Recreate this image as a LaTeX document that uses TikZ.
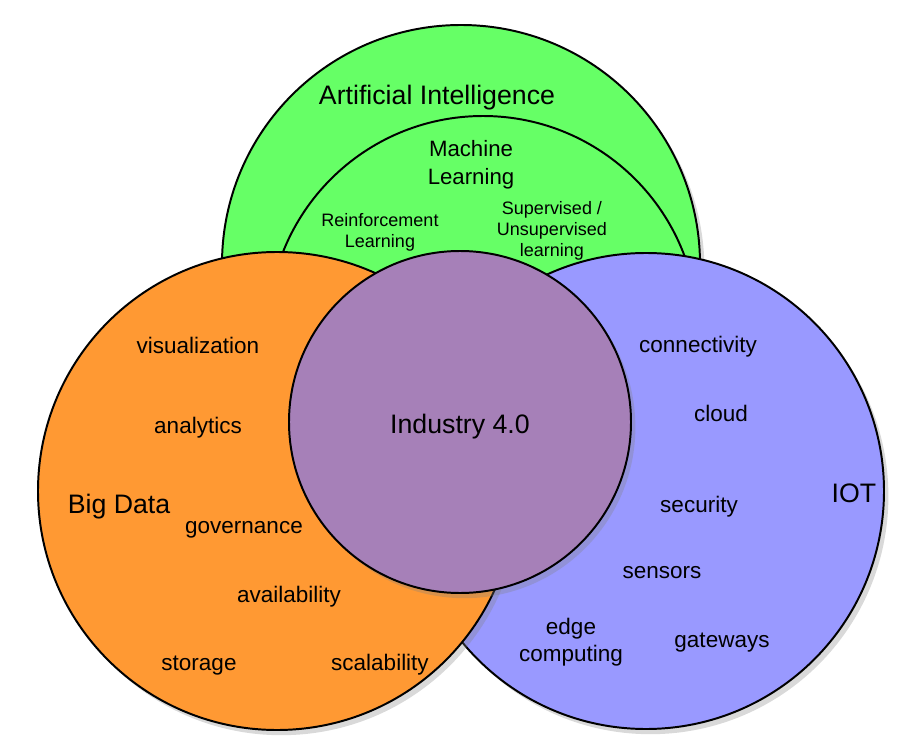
\documentclass[tikz,border=0pt]{standalone}
\usepackage{fontspec}
\setmainfont{Liberation Sans}
\usetikzlibrary{shadows}
\definecolor{aigreen}  {RGB}{102,255,102}
\definecolor{bdorange} {RGB}{255,153, 51}
\definecolor{iotblue}  {RGB}{153,153,255}
\definecolor{indpurple}{RGB}{166,128,184}

\begin{document}
\begin{tikzpicture}[x=0.025cm,y=-0.025cm,
  ring/.style={draw=black,line width=1.4pt},
  shad/.style={drop shadow={shadow xshift=0.11cm,shadow yshift=-0.13cm,opacity=0.3}},
  big/.style={font=\fontsize{19}{23}\selectfont,anchor=base,inner sep=0pt},
  mid/.style={font=\fontsize{15.8}{19.9}\selectfont,anchor=base,align=center,inner sep=0pt},
  sml/.style={font=\fontsize{12.8}{14.6}\selectfont,anchor=base,align=center,inner sep=0pt},
  itm/.style={font=\fontsize{16}{18.6}\selectfont,anchor=base,align=center,inner sep=0pt}]
  \useasboundingbox (0,0) rectangle (923,742);
  \draw[ring,shad,fill=aigreen  ] (461,264) circle(239);
  \draw[ring,     fill=aigreen  ] (483,331) circle(215);
  \node[big] (ai)   at (437,105) {Artificial Intelligence};
  \node[mid] (ml)   at (471,184) {Machine\\Learning};
  \node[sml] (rl)   at (380,247) {Reinforcement\\Learning};
  \node[sml] (sul)  at (552,256) {Supervised /\\Unsupervised\\learning};
  \draw[ring,shad,fill=iotblue  ] (646,491) circle(238);
  \draw[ring,shad,fill=bdorange ] (277,491) circle(239);
  \draw[ring,shad,fill=indpurple] (460,422) circle(171);
  \node[big] (ind)  at (460,433) {Industry 4.0};
  \node[big] (bd)   at (119,513) {Big Data};
  \node[itm] (vis)  at (198,353) {visualization};
  \node[itm] (ana)  at (198,433) {analytics};
  \node[itm] (gov)  at (244,533) {governance};
  \node[itm] (ava)  at (289,602) {availability};
  \node[itm] (sto)  at (199,670) {storage};
  \node[itm] (sca)  at (380,670) {scalability};
  \node[big] (iot)  at (854,502) {IOT};
  \node[itm] (con)  at (698,352) {connectivity};
  \node[itm] (clo)  at (721,421) {cloud};
  \node[itm] (sec)  at (699,512) {security};
  \node[itm] (sen)  at (662,578) {sensors};
  \node[itm] (edg)  at (571,661) {edge\\computing};
  \node[itm] (gat)  at (722,647) {gateways};
\end{tikzpicture}
\end{document}
